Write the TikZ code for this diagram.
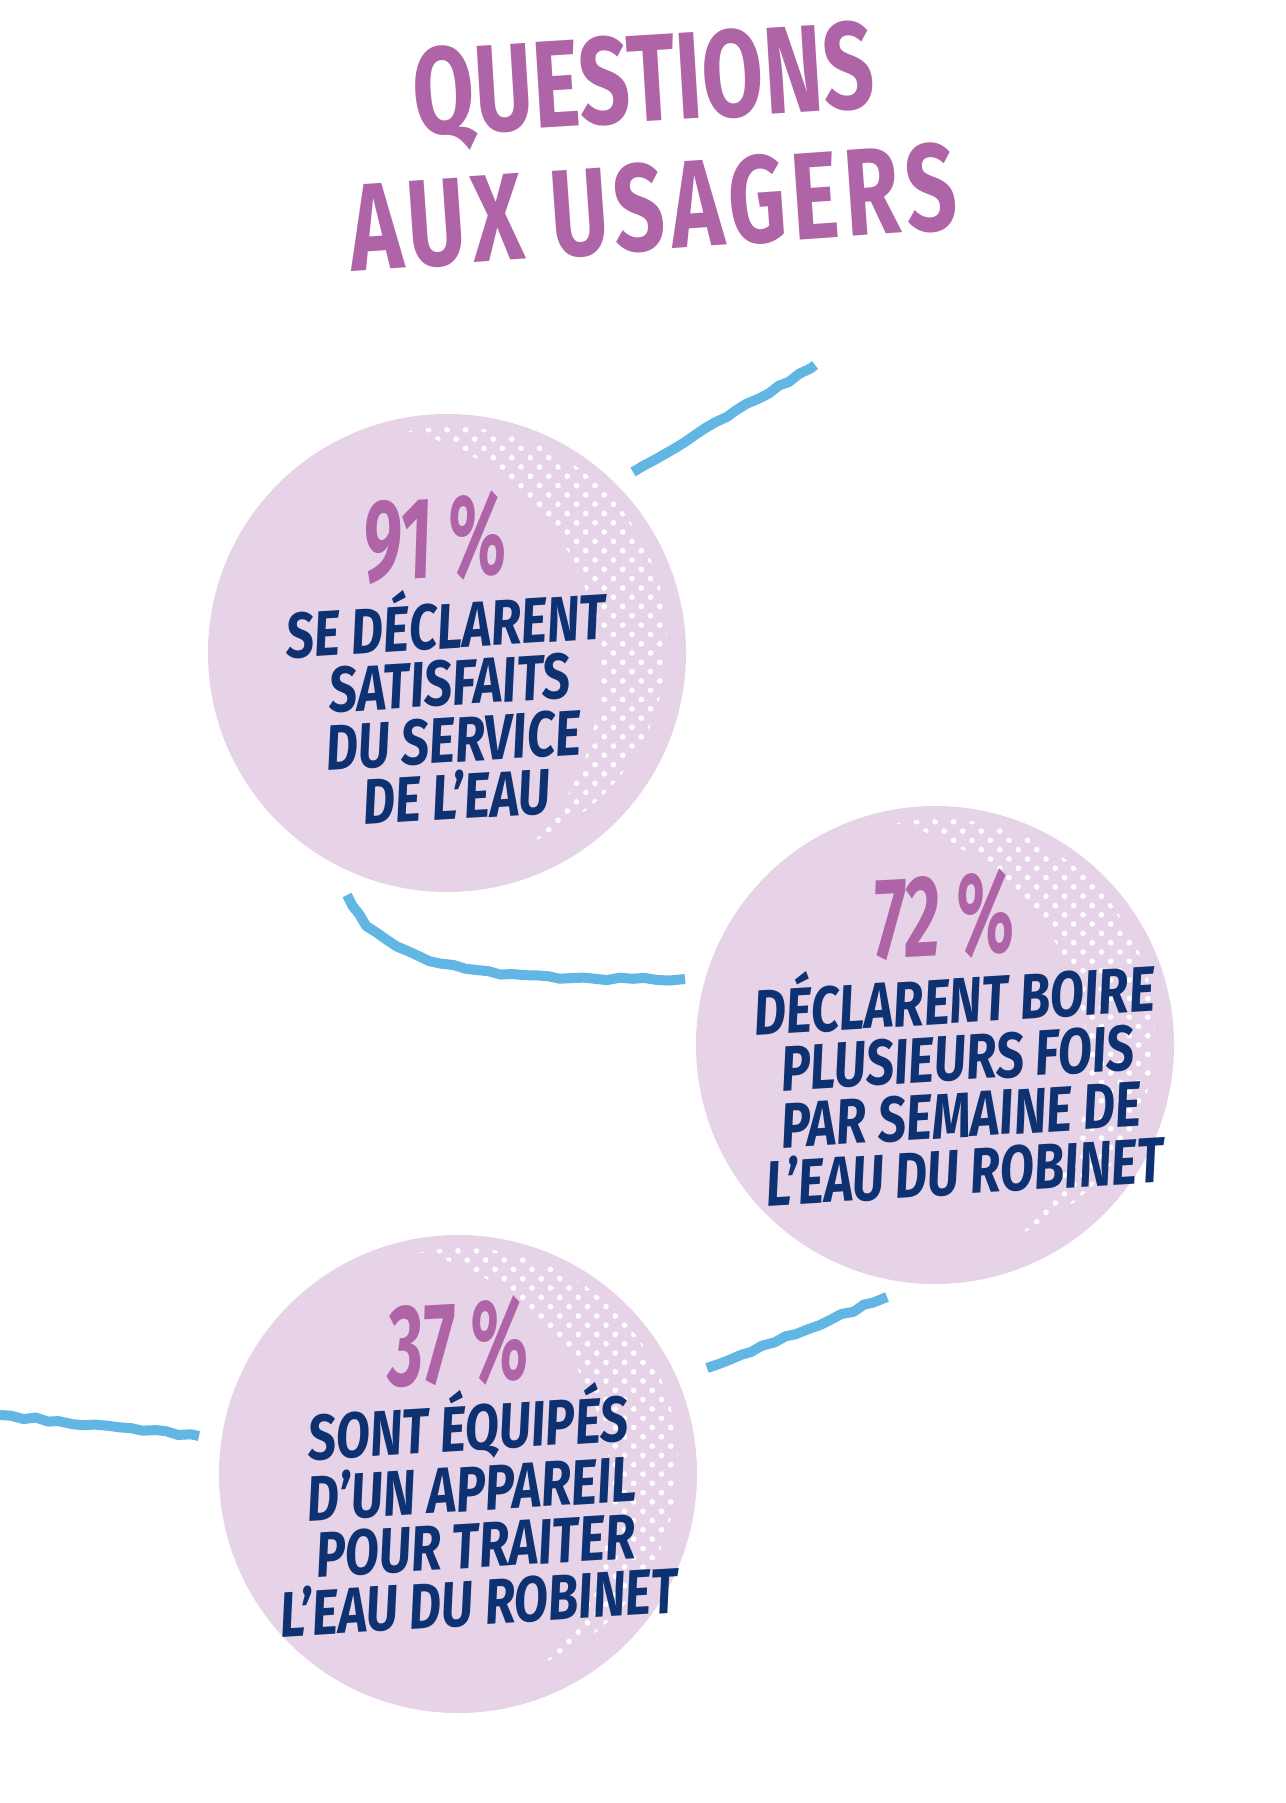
\documentclass[tikz,border=0pt]{standalone}
\usepackage{fontspec}
\setmainfont{Fira Sans}
\newfontfamily\titlefont{Fira Sans}[FakeStretch=0.72]
\newfontfamily\pctfont{Fira Sans}[FakeStretch=0.6]
\newfontfamily\bodyfont{Fira Sans}[FakeStretch=0.78]
\usetikzlibrary{decorations.pathmorphing}

\definecolor{titlepurple}{HTML}{B064A8}
\definecolor{bubblepink}{HTML}{E6D3E8}
\definecolor{navy}{HTML}{0E3172}
\definecolor{waterblue}{HTML}{62B6E4}

\tikzset{
	headline/.style={text=titlepurple,inner sep=0,rotate=3.5,font=\titlefont\bfseries\fontsize{62}{62}\selectfont},
	bubble/.style={circle,fill=bubblepink,inner sep=0,outer sep=0,minimum size=239pt},
	pct/.style={text=titlepurple,inner sep=0,rotate=3,font=\pctfont\bfseries\itshape\fontsize{58}{58}\selectfont},
	statement/.style={text=navy,inner sep=0,rotate=3.5,align=center,font=\bodyfont\bfseries\itshape\fontsize{32}{28.5}\selectfont},
	wave/.style={draw=waterblue,line width=5pt,line join=round,decorate,decoration={random steps,segment length=6pt,amplitude=0.8pt}}
}

\begin{document}
\begin{tikzpicture}[x=0.5pt,y=-0.5pt]
	\useasboundingbox (0,0) rectangle (1285,1803);
	\pgfmathsetseed{11}
	\node[headline] (title1) at (644,87) {QUESTIONS};
	\node[headline,rotate=0.5] (title2) at (653,207) {\addfontfeature{LetterSpace=5}AUX USAGERS};
	\node[bubble] (c1) at (447,653) {};
	\node[bubble] (c2) at (935,1045) {};
	\node[bubble] (c3) at (458,1474) {};
	% white dots
	\foreach \c in {c1,c2,c3}{
		\begin{scope}[shift={(\c)},even odd rule]
			\clip (5,-11) circle (107.5pt);
			\clip (5,-11) circle (107.5pt) (-95,20) circle (124pt);
			\foreach \i in {-6,...,13}
				\foreach \j in {-26,...,26}
					\fill[white] ({\i*18.5+mod(\j,2)*9.25},{\j*9.3}) circle (1.4pt);
		\end{scope}
	}
	\node[pct] (p1) at (435,538) {91 \%};
	\node[statement] (s1) at (451,704) {SE DÉCLARENT\\SATISFAITS\\DU SERVICE\\DE L’EAU};
	\node[pct] (p2) at (944,916) {72 \%};
	\node[statement] (s2) at (959,1079) {DÉCLARENT BOIRE\\PLUSIEURS FOIS\\PAR SEMAINE DE\\L’EAU DU ROBINET};
	\node[pct] (p3) at (458,1343) {37 \%};
	\node[statement] (s3) at (473,1508) {SONT ÉQUIPÉS\\D’UN APPAREIL\\POUR TRAITER\\L’EAU DU ROBINET};
	% blue lines
	\coordinate (w1a) at (633,472);
	\coordinate (w1b) at (815,365);
	\coordinate (w2a) at (347,895);
	\coordinate (w2b) at (685,979);
	\coordinate (w3a) at (707,1368);
	\coordinate (w3b) at (887,1297);
	\coordinate (w4a) at (0,1415);
	\coordinate (w4b) at (199,1436);
	\draw[wave] (w1a) -- (w1b);
	\draw[wave] (w2a) .. controls (385,975) and (500,980) .. (w2b);
	\draw[wave] (w3a) -- (w3b);
	\draw[wave] (w4a) -- (w4b);
\end{tikzpicture}
\end{document}
